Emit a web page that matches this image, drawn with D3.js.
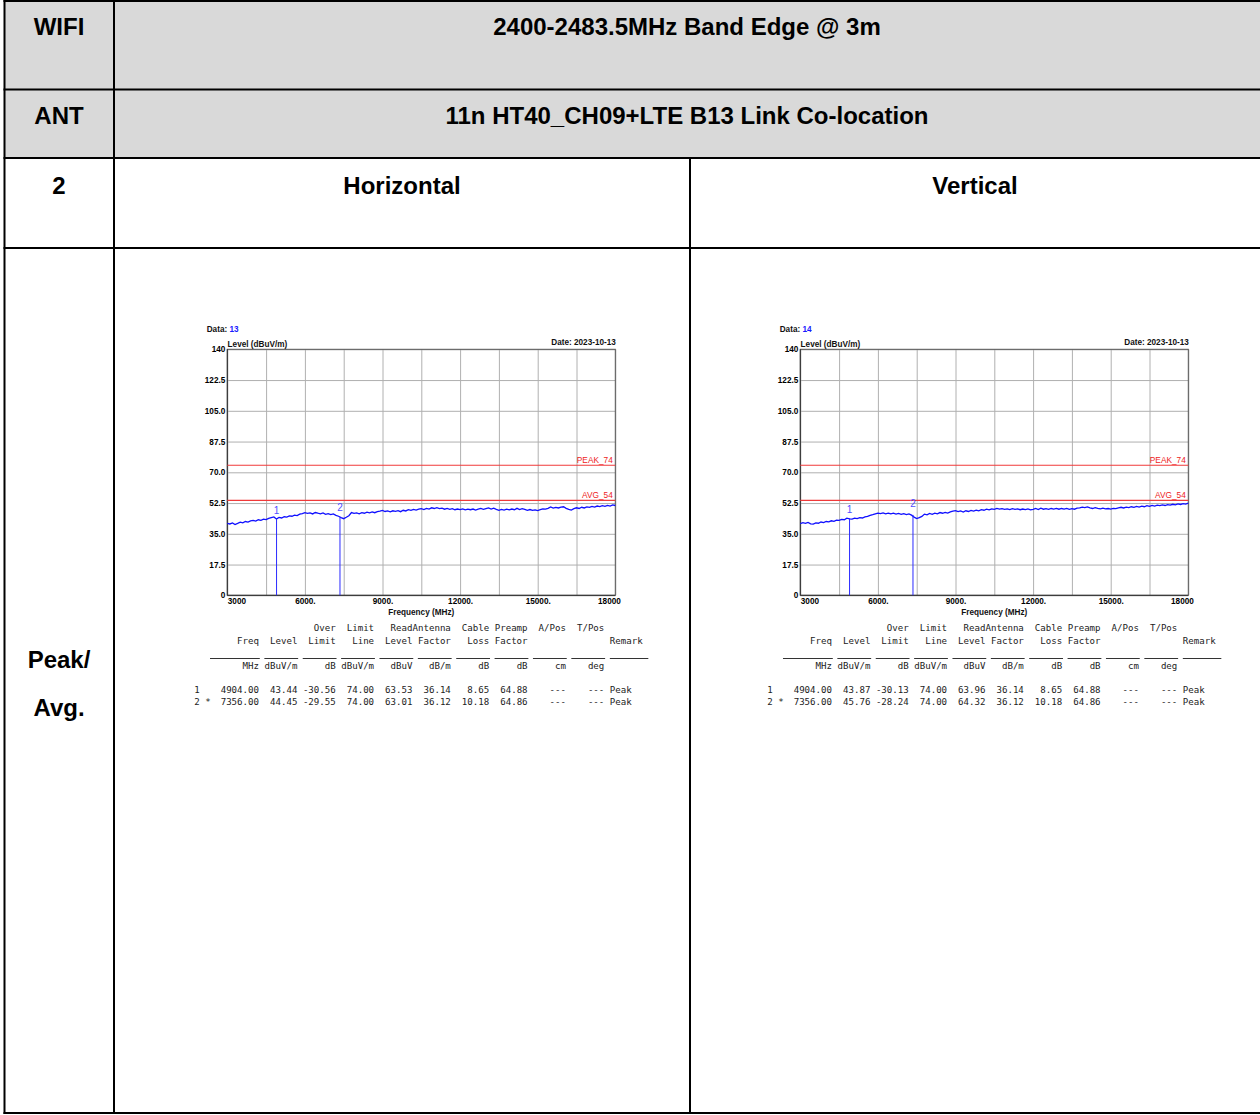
<!DOCTYPE html>
<html><head><meta charset="utf-8">
<script src="https://cdn.jsdelivr.net/npm/d3@7"></script>
<style>body{margin:0;background:#fff;overflow:hidden}</style>
</head><body><svg id="c" width="1260" height="1115"></svg>
<script>
// ---------- data ----------
const rowLabels = ["WIFI", "ANT", "2", "Peak/", "Avg."];
const titleText = "2400-2483.5MHz Band Edge @ 3m";
const subtitleText = "11n HT40_CH09+LTE B13 Link Co-location";
const polarizations = ["Horizontal", "Vertical"];
const dataNumbers = ["13", "14"];
const dateText = "Date: 2023-10-13";

const yTicks = [0, 17.5, 35, 52.5, 70, 87.5, 105, 122.5, 140];
const yTickLabels = ["0", "17.5", "35.0", "52.5", "70.0", "87.5", "105.0", "122.5", "140"];
const xGrid = [3000, 4500, 6000, 7500, 9000, 10500, 12000, 13500, 15000, 16500, 18000];
const xTickValues = [3000, 6000, 9000, 12000, 15000, 18000];
const xTickLabels = ["3000", "6000.", "9000.", "12000.", "15000.", "18000"];
const limitValues = [74, 54];
const limitLabels = ["PEAK_74", "AVG_54"];

const FREQ_START = 3000, FREQ_STEP = 100; // sweep 3000..18000 MHz
const traceH = [
41.0,40.6,41.2,40.3,40.9,41.6,41.2,42.0,41.7,42.4,
42.6,42.2,43.0,42.7,43.3,43.1,43.8,44.2,44.6,43.4,
44.3,44.0,44.7,44.5,45.2,45.0,45.6,45.4,46.2,46.5,
47.0,46.6,46.9,46.3,47.1,46.7,46.4,46.9,46.1,46.5,
45.9,46.3,45.5,45.0,44.2,43.6,44.4,45.3,47.1,46.6,
46.9,46.4,47.0,46.7,47.3,46.9,47.5,47.0,47.6,47.9,
48.3,47.7,48.0,47.5,48.1,47.8,48.2,47.6,48.4,48.0,
48.7,48.3,48.9,48.5,49.0,49.3,48.8,49.5,49.1,49.8,
49.4,49.9,49.3,49.6,49.0,49.4,48.9,49.3,48.7,49.1,
48.8,49.2,48.6,49.0,48.7,49.1,48.5,49.0,49.4,48.9,
49.3,49.7,49.1,49.6,48.9,48.4,48.9,48.5,49.0,48.6,
49.1,48.7,49.5,48.8,49.3,48.9,48.4,48.8,48.3,48.6,
48.2,48.7,49.2,49.0,49.5,50.3,49.6,50.0,49.7,50.2,
50.4,49.5,48.9,48.5,49.3,49.8,49.4,50.1,49.7,50.3,
50.0,50.6,50.2,50.8,50.5,51.0,50.6,51.2,50.8,51.4,
51.1];
const traceV = [
40.8,41.3,40.9,41.5,40.7,40.5,41.2,41.0,41.7,41.4,
42.0,41.8,42.4,42.1,42.8,42.6,43.2,43.0,43.9,43.5,
43.4,43.9,43.6,44.2,44.0,44.6,44.9,45.5,45.9,46.4,
46.8,46.5,46.9,46.4,46.8,46.3,46.7,46.2,46.6,46.1,
46.5,45.9,46.3,45.6,44.5,43.7,44.2,44.9,46.2,45.8,
46.6,46.1,46.8,46.4,47.1,46.7,47.2,46.8,47.5,47.9,
48.2,47.6,48.0,47.4,48.1,47.7,48.3,47.9,48.5,48.1,
48.7,48.4,49.0,48.6,49.2,48.9,49.4,49.0,49.3,48.9,
49.2,48.8,49.3,48.9,49.2,48.7,49.1,48.8,49.2,48.6,
48.9,49.4,48.8,49.6,49.0,49.3,48.9,49.4,49.1,49.5,
49.0,49.4,49.1,49.5,48.9,49.3,49.0,49.6,49.8,50.2,
49.9,50.3,49.8,49.4,49.9,49.5,49.2,49.6,49.2,49.4,
49.1,49.5,49.3,49.8,50.1,49.7,50.2,49.9,50.4,50.1,
50.6,50.2,50.7,50.4,51.0,50.6,51.2,50.8,51.3,51.0,
51.4,51.1,51.6,51.3,51.8,51.5,52.0,51.7,52.2,51.9,
52.4];

const headRow1 = ["", "", "Over", "Limit", "", "ReadAntenna", "Cable", "Preamp", "A/Pos", "T/Pos"];
const headRow2 = ["Freq", "Level", "Limit", "Line", "Level", "Factor", "Loss", "Factor", "", ""];
const unitRow  = ["MHz", "dBuV/m", "dB", "dBuV/m", "dBuV", "dB/m", "dB", "dB", "cm", "deg"];
const remarkHead = "Remark";
const rowIds = ["1", "2 *"];
const freqCol = [4904.00, 7356.00];
const levelH = [43.44, 44.45], levelV = [43.87, 45.76];
const overH = [-30.56, -29.55], overV = [-30.13, -28.24];
const limitCol = [74.00, 74.00];
const readH = [63.53, 63.01], readV = [63.96, 64.32];
const antCol = [36.14, 36.12];
const cableCol = [8.65, 10.18];
const preampCol = [64.88, 64.86];
const aposCol = ["---", "---"], tposCol = ["---", "---"];
const remarkCol = ["Peak", "Peak"];

// ---------- drawing ----------
const svg = d3.select("#c");
const SANS = "'Liberation Sans', Arial, sans-serif";
const MONO = "'DejaVu Sans Mono', 'Liberation Mono', monospace";

// table background
svg.append("rect").attr("x", 4).attr("y", 1).attr("width", 1262).attr("height", 157).attr("fill", "#d9d9d9");
svg.append("rect").attr("x", 4).attr("y", 158).attr("width", 1262).attr("height", 955).attr("fill", "#fff");

// table borders
const hLines = [1, 89.5, 158, 248, 1113];
hLines.forEach(yv => svg.append("line").attr("x1", 3.5).attr("x2", 1262).attr("y1", yv).attr("y2", yv)
  .attr("stroke", "#000").attr("stroke-width", 2));
[[4.5, 0, 1114], [114, 0, 1114], [690, 158, 1114]].forEach(([xv, y1, y2]) =>
  svg.append("line").attr("x1", xv).attr("x2", xv).attr("y1", y1).attr("y2", y2)
    .attr("stroke", "#000").attr("stroke-width", 2));

const big = (txt, xv, yv) => svg.append("text").attr("x", xv).attr("y", yv).attr("text-anchor", "middle")
  .attr("font-family", SANS).attr("font-weight", "bold").attr("font-size", 24).attr("fill", "#000").text(txt);
big(rowLabels[0], 59, 34.5);
big(rowLabels[1], 59, 123.5);
big(rowLabels[2], 59, 193.5);
big(rowLabels[3], 59, 667.5);
big(rowLabels[4], 59, 715.5);
big(titleText, 687, 34.5);
big(subtitleText, 687, 123.5);
big(polarizations[0], 402, 193.5);
big(polarizations[1], 975, 193.5);

// panels
const W = 388, H = 246, TOP = 349.3;
const panelLefts = [227.3, 800.3];
const traces = [traceH, traceV];
const levels = [levelH, levelV], overs = [overH, overV], reads = [readH, readV];
const markerLabelDy = [[-5, -6], [-5, -8]];
const FS = 8.2;

panelLefts.forEach((L, p) => {
  const g = svg.append("g").attr("transform", `translate(${L},${TOP})`);
  const x = d3.scaleLinear().domain([3000, 18000]).range([0, W]);
  const y = d3.scaleLinear().domain([0, 140]).range([H, 0]);

  g.append("rect").attr("width", W).attr("height", H).attr("fill", "#fff");

  // vertical grid
  const gx = g.append("g").attr("transform", `translate(0,${H})`)
    .call(d3.axisBottom(x).tickValues(xGrid).tickSize(-H).tickFormat(""));
  gx.select(".domain").remove();
  gx.selectAll("line").attr("stroke", "#b0b0b0").attr("stroke-width", 1);

  // y axis with grid + labels
  const gy = g.append("g").call(d3.axisLeft(y).tickValues(yTicks).tickSize(-W).tickPadding(2)
    .tickFormat((d, i) => yTickLabels[i]));
  gy.select(".domain").remove();
  gy.selectAll("line").attr("stroke", "#b0b0b0").attr("stroke-width", 1);
  gy.selectAll("text").attr("font-family", SANS).attr("font-weight", "bold").attr("font-size", FS).attr("fill", "#000");

  // x labels
  const gl = g.append("g").attr("transform", `translate(0,${H})`)
    .call(d3.axisBottom(x).tickValues(xTickValues).tickSize(0).tickPadding(3)
      .tickFormat((d, i) => xTickLabels[i]));
  gl.select(".domain").remove();
  gl.selectAll("text").attr("font-family", SANS).attr("font-weight", "bold").attr("font-size", FS).attr("fill", "#000")
    .attr("text-anchor", (d, i) => i === 0 ? "start" : (i === xTickValues.length - 1 ? "end" : "middle"))
    .attr("dx", (d, i) => i === xTickValues.length - 1 ? 5 : 0);

  // frame
  g.append("rect").attr("width", W).attr("height", H).attr("fill", "none").attr("stroke", "#555").attr("stroke-width", 1);
  g.append("line").attr("x1", 0).attr("x2", 0).attr("y1", 0).attr("y2", H).attr("stroke", "#333");
  g.append("line").attr("x1", 0).attr("x2", W).attr("y1", H).attr("y2", H).attr("stroke", "#333");

  // limit lines
  limitValues.forEach((v, i) => {
    g.append("line").attr("x1", 0).attr("x2", W).attr("y1", y(v)).attr("y2", y(v))
      .attr("stroke", "#f03a3a").attr("stroke-width", 1.2);
    g.append("text").attr("x", W - 2.5).attr("y", y(v) - 2.5).attr("text-anchor", "end")
      .attr("font-family", SANS).attr("font-size", 8.3).attr("fill", "#ee2222").text(limitLabels[i]);
  });

  // trace
  const line = d3.line().x((d, i) => x(FREQ_START + i * FREQ_STEP)).y(d => y(d));
  g.append("path").datum(traces[p]).attr("d", line).attr("fill", "none")
    .attr("stroke", "#0f0fff").attr("stroke-width", 1.3);

  // markers
  freqCol.forEach((f, i) => {
    const lv = levels[p][i];
    g.append("line").attr("x1", x(f)).attr("x2", x(f)).attr("y1", y(lv)).attr("y2", H)
      .attr("stroke", "#2a2aff").attr("stroke-width", 1);
    g.append("text").attr("x", x(f)).attr("y", y(lv) + markerLabelDy[p][i]).attr("text-anchor", "middle")
      .attr("font-family", SANS).attr("font-size", 10).attr("fill", "#5050ff").text(String(i + 1));
  });

  // header texts
  const dt = g.append("text").attr("x", -20.6).attr("y", 332 - TOP).attr("font-family", SANS)
    .attr("font-weight", "bold").attr("font-size", FS);
  dt.append("tspan").attr("fill", "#111").text("Data: ");
  dt.append("tspan").attr("fill", "#1a1aff").text(dataNumbers[p]);
  g.append("text").attr("x", 0.3).attr("y", 346.5 - TOP).attr("font-family", SANS)
    .attr("font-weight", "bold").attr("font-size", FS).attr("fill", "#111").text("Level (dBuV/m)");
  g.append("text").attr("x", W + 0.6).attr("y", 345 - TOP).attr("text-anchor", "end").attr("font-family", SANS)
    .attr("font-weight", "bold").attr("font-size", FS).attr("fill", "#111").text(dateText);
  g.append("text").attr("x", W / 2).attr("y", 615 - TOP).attr("text-anchor", "middle").attr("font-family", SANS)
    .attr("font-weight", "bold").attr("font-size", FS).attr("fill", "#111").text("Frequency (MHz)");

  // result table (monospace printout)
  const colRight = i => 31.7 + 38.37 * i;
  const mono = (txt, xv, yv, anchor) => g.append("text").attr("x", xv).attr("y", yv - TOP)
    .attr("text-anchor", anchor).attr("font-family", MONO).attr("font-size", 9.1).attr("fill", "#222")
    .attr("xml:space", "preserve").text(txt);
  headRow1.forEach((t, i) => { if (t) mono(t, colRight(i), 631.5, "end"); });
  headRow2.forEach((t, i) => { if (t) mono(t, colRight(i), 644.2, "end"); });
  mono(remarkHead, colRight(9) + 5.5, 644.2, "start");
  unitRow.forEach((t, i) => mono(t, colRight(i), 669, "end"));
  // underline segments
  const ul = (x1, x2) => g.append("line").attr("x1", x1).attr("x2", x2).attr("y1", 658.5 - TOP).attr("y2", 658.5 - TOP)
    .attr("stroke", "#333").attr("stroke-width", 1);
  ul(210 - 227.3, colRight(0) + 0.8);
  for (let i = 1; i < 10; i++) ul(colRight(i) - 33, colRight(i) + 0.8);
  ul(colRight(9) + 5.5, colRight(9) + 44);

  const rowY = [693.2, 705.5];
  rowIds.forEach((id, r) => {
    mono(id, -33, rowY[r], "start");
    const vals = [freqCol[r].toFixed(2), levels[p][r].toFixed(2), overs[p][r].toFixed(2), limitCol[r].toFixed(2),
      reads[p][r].toFixed(2), antCol[r].toFixed(2), cableCol[r].toFixed(2), preampCol[r].toFixed(2), aposCol[r], tposCol[r]];
    vals.forEach((v, i) => mono(v, colRight(i), rowY[r], "end"));
    mono(remarkCol[r], colRight(9) + 5.5, rowY[r], "start");
  });
});
</script>
</body></html>
